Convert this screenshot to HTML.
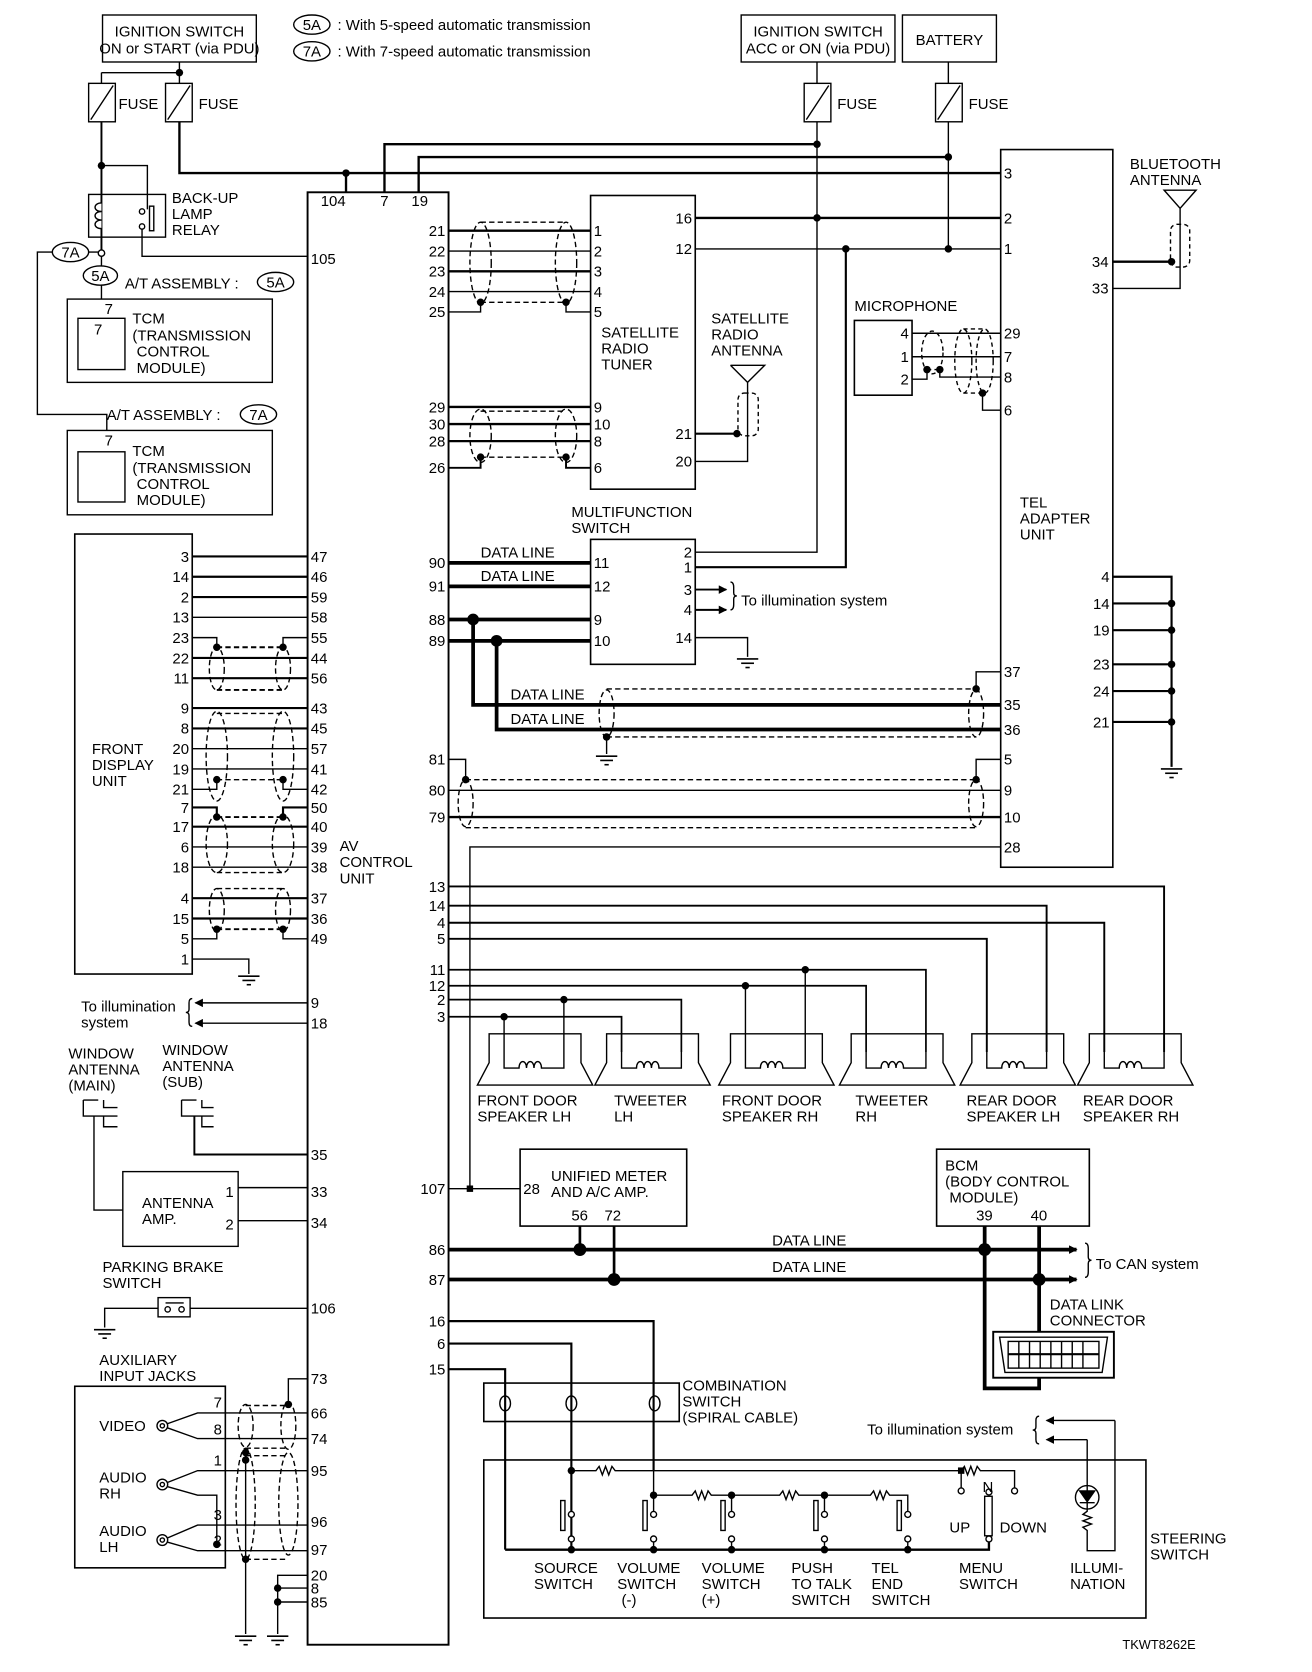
<!DOCTYPE html>
<html><head><meta charset="utf-8"><style>
html,body{margin:0;padding:0;background:#fff}
svg{display:block}
text{font-family:"Liberation Sans",Arial,sans-serif;font-size:14px;fill:#000}
.s{font-size:12px}
</style></head><body>
<svg width="1312" height="1672" viewBox="0 0 1228.5 1565.5" xmlns="http://www.w3.org/2000/svg">
<defs>
<marker id="ar" markerWidth="8" markerHeight="8" refX="7" refY="4" orient="auto" markerUnits="userSpaceOnUse"><path d="M0,0 L8,4 L0,8 z" fill="#000"/></marker>
<g id="gnd"><line x1="-10" y1="0" x2="10" y2="0" stroke="#000" stroke-width="1.5"/><line x1="-6" y1="4" x2="6" y2="4" stroke="#000" stroke-width="1.5"/><line x1="-2" y1="8" x2="2" y2="8" stroke="#000" stroke-width="1.5"/></g>
</defs>
<g fill="none" stroke="#000" stroke-width="1.3">

<rect x="96" y="14" width="144" height="44"/>
<rect x="694" y="14" width="144" height="44"/>
<rect x="845" y="14" width="88" height="44"/>
<ellipse cx="292" cy="23" rx="17" ry="9"/>
<ellipse cx="292" cy="48" rx="17" ry="9"/>
<path d="M168 58V68M95 68H168M95 68V78M168 68V78"/>
<rect x="83" y="78" width="25" height="36"/><line x1="85" y1="112" x2="106" y2="80"/>
<rect x="155" y="78" width="25" height="36"/><line x1="157" y1="112" x2="178" y2="80"/>
<path d="M765 58V78M888 58V78"/>
<rect x="753" y="78" width="25" height="36"/><line x1="755" y1="112" x2="776" y2="80"/>
<rect x="876" y="78" width="25" height="36"/><line x1="878" y1="112" x2="899" y2="80"/>

<path d="M168 114V162H937" stroke-width="2.2"/>
<path d="M324 162V180" stroke-width="2.2"/>
<path d="M360 180V135H765" stroke-width="2.2"/>
<path d="M392 180V147H888" stroke-width="2.2"/>
<path d="M765 114V517H651"/>
<path d="M888 114V233"/>
<path d="M651 204H937" stroke-width="2.2"/>
<path d="M651 233H937"/>
<path d="M792 233V531H651" stroke-width="2"/>

<path d="M95 114V237" stroke-width="1.8"/>
<path d="M95 155H138V196"/>
<rect x="83" y="182" width="72" height="40"/>
<path d="M95 190c-8 0-8 8 0 8c-8 0-8 8 0 8c-8 0-8 8 0 8" fill="#fff"/>
<circle cx="133" cy="198" r="2.5"/><circle cx="133" cy="212" r="2.5"/>
<rect x="140" y="193" width="4" height="23"/>
<path d="M133 214V240H288"/>
<circle cx="95" cy="237" r="3" fill="#fff"/>
<ellipse cx="66" cy="236" rx="17" ry="9"/>
<path d="M83 236H92M49 236H35V388H100V403"/>
<ellipse cx="94" cy="258" rx="16" ry="9"/>
<path d="M95 240V249M95 267V280"/>
<ellipse cx="258" cy="264" rx="17" ry="9"/>
<ellipse cx="242" cy="388" rx="17" ry="9"/>
<rect x="63" y="280" width="192" height="78"/><rect x="73" y="298" width="44" height="48"/>
<rect x="63" y="403" width="192" height="79"/><rect x="73" y="423" width="44" height="47"/>

<rect x="288" y="180" width="132" height="1360" stroke-width="1.8"/>

<rect x="70" y="500" width="110" height="412" stroke-width="1.5"/>
<g stroke-width="2">
<path d="M180 521H288M180 540H288M180 559H288M180 616H288M180 635H288M180 663H288M180 682H288M180 774H288M180 841H288M180 860H288"/>
</g>
<path d="M180 578H288M180 701H288M180 720H288M180 793H288M180 812H288"/>
<path d="M180 597H203V606M288 597H265V606"/>
<path d="M180 739H203V730M288 739H265V730"/>
<path d="M180 756H203V765M288 756H265V765" stroke-width="2"/>
<path d="M180 879H203V870M288 879H265V870"/>
<path d="M180 898H233V912"/>
<g stroke-dasharray="5,3">
<path d="M203 606H265M203 646H265" stroke-width="1.8"/>
<ellipse cx="203" cy="626" rx="7" ry="20"/><ellipse cx="265" cy="626" rx="7" ry="20"/>
<path d="M203 668H265"/><ellipse cx="203" cy="708" rx="10" ry="42"/><ellipse cx="265" cy="708" rx="10" ry="42"/>
<path d="M203 730H265"/>
<path d="M203 765H265" stroke-width="1.8"/><ellipse cx="203" cy="790" rx="10" ry="27"/><ellipse cx="265" cy="790" rx="10" ry="27"/><path d="M203 817H265"/>
<path d="M203 832H265"/><ellipse cx="203" cy="852" rx="7" ry="20"/><ellipse cx="265" cy="852" rx="7" ry="20"/><path d="M203 870H265" stroke-width="1.8"/>
</g>
<use href="#gnd" x="233" y="914"/>

<path d="M420 216H553M420 254H553" stroke-width="2.2"/>
<path d="M420 235H553M420 273H553"/>
<path d="M420 292H450V283M553 292H530V283"/>
<g stroke-dasharray="5,3">
<path d="M450 208H530M450 283H530"/>
<ellipse cx="450" cy="246" rx="10" ry="38"/><ellipse cx="530" cy="246" rx="10" ry="38"/>
<path d="M450 385H530M450 428H530"/>
<ellipse cx="450" cy="408" rx="10" ry="25"/><ellipse cx="530" cy="408" rx="10" ry="25"/>
</g>
<path d="M420 381H553M420 397H553M420 413H553" stroke-width="2.2"/>
<path d="M420 438H450V428M553 438H530V428" stroke-width="1.8"/>
<rect x="553" y="183" width="98" height="275" stroke-width="1.5"/>
<path d="M684 342H716L700 358L684 342M700 358V432H651" />
<path d="M651 406H690" stroke-width="2"/>
<g stroke-dasharray="4,3"><rect x="691" y="368" width="19" height="40" rx="6"/></g>

<rect x="553" y="505" width="98" height="117" stroke-width="1.5"/>
<path d="M420 527H553M420 549H553M420 580H553M420 600H553" stroke-width="3.5"/>
<path d="M443 580V660H937M465 600V683H937" stroke-width="3.5"/>
<path d="M651 552H680" marker-end="url(#ar)" stroke-width="1.8"/>
<path d="M651 571H680" marker-end="url(#ar)" stroke-width="1.8"/>
<path d="M684 545q3 0 3 5v5q0 3 3 3q-3 0-3 3v5q0 5-3 5"/>
<path d="M651 597H700V615"/><use href="#gnd" x="700" y="617"/>
<g stroke-dasharray="5,3">
<path d="M568 645H914M568 690H914"/>
<ellipse cx="568" cy="668" rx="7" ry="22"/><ellipse cx="914" cy="668" rx="7" ry="22"/>
</g>
<path d="M914 645V629H937M568 690V706"/><use href="#gnd" x="568" y="708"/>

<path d="M420 711H436V730M937 711H914V730"/>
<path d="M420 740H937"/>
<path d="M420 765H937" stroke-width="2.2"/>
<g stroke-dasharray="5,3">
<path d="M436 730H914M436 775H914"/>
<ellipse cx="436" cy="752" rx="7" ry="22"/><ellipse cx="914" cy="752" rx="7" ry="22"/>
</g>
<path d="M937 793H440V1113"/>

<rect x="937" y="140" width="105" height="672" stroke-width="1.5"/>
<path d="M1042 540H1097V718M1042 565H1097M1042 590H1097M1042 622H1097M1042 647H1097M1042 676H1097" stroke-width="2"/>
<use href="#gnd" x="1097" y="720"/>
<path d="M1042 245H1097" stroke-width="2.2"/>
<path d="M1042 270H1105V195M1090 178H1120L1105 195Z"/>
<g stroke-dasharray="4,3"><rect x="1096" y="210" width="18" height="40" rx="6"/></g>
<rect x="800" y="300" width="54" height="70" stroke-width="1.5"/>
<path d="M854 312H937M854 334H937"/>
<path d="M854 355H868V346M937 353H880V346"/>
<path d="M937 384H920V371"/>
<g stroke-dasharray="4,3">
<ellipse cx="873" cy="330" rx="10" ry="20"/><path d="M868 346H880"/>
<ellipse cx="902" cy="338" rx="8" ry="30"/><ellipse cx="922" cy="338" rx="8" ry="30"/><path d="M902 308H922M902 368H922"/>
</g>

<path d="M420 830H1090V985M420 848H980V985M420 864H1034V985M420 879H924V985" stroke-width="1.8"/>
<path d="M420 908H867V985M420 923H811V985M420 936H638V985M420 952H582V985" stroke-width="1.6"/>
<path d="M472 952V985M528 936V985M698 923V985M754 908V985"/>
<g id="spk"><path d="M458 968H544V995L555 1016H447L458 995Z"/><path d="M472 985V1000H486c0-8 7-8 7 0c0-8 7-8 7 0c0-8 7-8 7 0H528V985"/></g>
<use href="#spk" x="110"/><use href="#spk" x="226"/><use href="#spk" x="339"/><use href="#spk" x="452"/><use href="#spk" x="562"/>

<rect x="487" y="1076" width="156" height="72" stroke-width="1.5"/>
<rect x="877" y="1076" width="143" height="72" stroke-width="1.5"/>
<path d="M420 1113H487"/>
<path d="M420 1170H1008" stroke-width="3.5" marker-end="url(#ar)"/>
<path d="M420 1198H1008" stroke-width="3.5" marker-end="url(#ar)"/>
<path d="M543 1148V1170M575 1148V1198" stroke-width="2.5"/>
<path d="M922 1148V1300H973V1148" stroke-width="3.5"/>
<path d="M1016 1164q3 0 3 5v8q0 3 3 3q-3 0-3 3v8q0 5-3 5"/>
<rect x="930" y="1247" width="113" height="43" fill="#fff" stroke-width="1.8"/>
<path d="M936 1252H1037L1032 1285H941Z"/>
<rect x="944" y="1256" width="85" height="25"/>
<path d="M944 1268H1029" stroke-width="2"/>
<path d="M954 1256V1281M964 1256V1281M974 1256V1281M984 1256V1281M994 1256V1281M1004 1256V1281M1014 1256V1281"/>

<path d="M288 939H183" marker-end="url(#ar)"/>
<path d="M288 958H183" marker-end="url(#ar)"/>
<path d="M180 935q-3 0-3 4v6q0 3-3 3q3 0 3 3v6q0 4 3 4"/>
<path d="M78 1030H92M78 1030V1045H110M97 1030V1037H110M97 1045V1055H110" />
<path d="M88 1045V1133H115"/>
<path d="M170 1030H184M170 1030V1045H200M189 1030V1037H200M189 1045V1055H200"/>
<path d="M182 1045V1081H288" stroke-width="1.8"/>
<rect x="115" y="1097" width="108" height="70"/>
<path d="M223 1112H288M223 1143H288"/>
<rect x="148" y="1215" width="30" height="18"/>
<path d="M155 1220H172"/><circle cx="157" cy="1226" r="2.5"/><circle cx="170" cy="1226" r="2.5"/>
<path d="M178 1225H288M148 1225H98V1243"/><use href="#gnd" x="98" y="1245"/>
<rect x="70" y="1298" width="141" height="170" stroke-width="1.5"/>
<circle cx="152" cy="1335" r="5"/><circle cx="152" cy="1335" r="2"/>
<circle cx="152" cy="1390" r="5"/><circle cx="152" cy="1390" r="2"/>
<circle cx="152" cy="1442" r="5"/><circle cx="152" cy="1442" r="2"/>
<path d="M157 1333L185 1323H288M157 1337L185 1347H288"/>
<path d="M157 1388L185 1377H288M157 1392L185 1400H203V1446"/>
<path d="M157 1440L185 1428H288M157 1444L185 1452H288"/>
<path d="M288 1291H270V1315"/>
<g stroke-dasharray="5,3">
<ellipse cx="230" cy="1335" rx="7" ry="20"/><ellipse cx="270" cy="1335" rx="7" ry="22"/>
<path d="M230 1316H270M230 1356H270"/>
<ellipse cx="230" cy="1408" rx="9" ry="52"/><ellipse cx="270" cy="1408" rx="9" ry="48"/>
<path d="M230 1363H270M230 1460H270"/>
</g>
<path d="M230 1356V1530"/><use href="#gnd" x="230" y="1532"/>
<path d="M288 1475H260V1530M288 1487H260M288 1500H260"/><use href="#gnd" x="260" y="1532"/>

<path d="M420 1237H612V1377M420 1258H535V1451M420 1282H473V1451" stroke-width="2"/>
<rect x="453" y="1295" width="183" height="36" fill="none" stroke-width="1.5"/>
<rect x="453" y="1367" width="620" height="148" stroke-width="1.5"/>
<path d="M473 1451H926V1444" stroke-width="2.2"/>
<path d="M535 1377H558l3-4 3 8 3-8 3 8 3-8 3 4H900l3-4 3 8 3-8 3 8 3-8 3 4H950V1393M900 1377V1393"/>
<path d="M612 1400H648l3-4 3 8 3-8 3 8 3-8 3 4H730l3-4 3 8 3-8 3 8 3-8 3 4H815l3-4 3 8 3-8 3 8 3-8 3 4H850V1415"/>
<path d="M612 1377V1415M685 1400V1415M772 1400V1415"/>
<path d="M535 1377V1415"/>
<path d="M535 1444V1451M612 1444V1451M685 1444V1451M772 1444V1451M850 1444V1451"/>
<g fill="#fff">
<circle cx="535" cy="1418" r="2.8"/><circle cx="535" cy="1441" r="2.8"/>
<circle cx="612" cy="1418" r="2.8"/><circle cx="612" cy="1441" r="2.8"/>
<circle cx="685" cy="1418" r="2.8"/><circle cx="685" cy="1441" r="2.8"/>
<circle cx="772" cy="1418" r="2.8"/><circle cx="772" cy="1441" r="2.8"/>
<circle cx="850" cy="1418" r="2.8"/><circle cx="850" cy="1441" r="2.8"/>
<circle cx="900" cy="1396" r="2.8"/><circle cx="950" cy="1396" r="2.8"/>
<circle cx="926" cy="1397" r="2.8"/><circle cx="926" cy="1441" r="2.8"/>
</g>
<rect x="525" y="1405" width="4" height="28"/><rect x="602" y="1405" width="4" height="28"/><rect x="675" y="1405" width="4" height="28"/><rect x="762" y="1405" width="4" height="28"/><rect x="840" y="1405" width="4" height="28"/>
<rect x="922" y="1401" width="7" height="37"/>
<circle cx="1018" cy="1402" r="11"/>
<path d="M1018 1348V1415l-4 3 8 3-8 3 8 3-8 3 4 3V1452H1044V1330" />
<path d="M1018 1348H980" marker-end="url(#ar)"/>
<path d="M1044 1330H980" marker-end="url(#ar)"/>
<path d="M1011 1396H1025L1018 1406Z" fill="#000"/><path d="M1011 1407H1025"/>
<path d="M973 1326q-3 0-3 4v6q0 3-3 3q3 0 3 3v6q0 4 3 4"/>
</g>

<g fill="none" stroke="#000" stroke-width="1.3">
<ellipse cx="473" cy="1314" rx="5" ry="7"/><ellipse cx="535" cy="1314" rx="5" ry="7"/><ellipse cx="613" cy="1314" rx="5" ry="7"/>
</g>

<g fill="#000">
<circle cx="168" cy="68" r="3.5"/><circle cx="95" cy="155" r="3.5"/><circle cx="324" cy="162" r="3.5"/>
<circle cx="765" cy="135" r="3.5"/><circle cx="888" cy="147" r="3.5"/><circle cx="765" cy="204" r="3.5"/>
<circle cx="792" cy="233" r="3.5"/><circle cx="888" cy="233" r="3.5"/>
<circle cx="203" cy="606" r="3.5"/><circle cx="265" cy="606" r="3.5"/>
<circle cx="203" cy="730" r="3.5"/><circle cx="265" cy="730" r="3.5"/>
<circle cx="203" cy="765" r="3.5"/><circle cx="265" cy="765" r="3.5"/>
<circle cx="203" cy="870" r="3.5"/><circle cx="265" cy="870" r="3.5"/>
<circle cx="450" cy="283" r="3.5"/><circle cx="530" cy="283" r="3.5"/>
<circle cx="450" cy="428" r="3.5"/><circle cx="530" cy="428" r="3.5"/>
<circle cx="690" cy="406" r="3.5"/>
<circle cx="443" cy="580" r="5.5"/><circle cx="465" cy="600" r="5.5"/>
<circle cx="914" cy="645" r="3.5"/><circle cx="568" cy="690" r="3.5"/>
<circle cx="436" cy="730" r="3.5"/><circle cx="914" cy="730" r="3.5"/>
<circle cx="1097" cy="565" r="3.5"/><circle cx="1097" cy="590" r="3.5"/><circle cx="1097" cy="622" r="3.5"/><circle cx="1097" cy="647" r="3.5"/><circle cx="1097" cy="676" r="3.5"/>
<circle cx="1097" cy="245" r="3.5"/>
<circle cx="868" cy="346" r="3.5"/><circle cx="880" cy="346" r="3.5"/><circle cx="920" cy="368" r="3.5"/>
<circle cx="472" cy="952" r="3.5"/><circle cx="528" cy="936" r="3.5"/><circle cx="698" cy="923" r="3.5"/><circle cx="754" cy="908" r="3.5"/>
<rect x="437" y="1110" width="6" height="6"/>
<circle cx="543" cy="1170" r="6"/><circle cx="575" cy="1198" r="6"/><circle cx="922" cy="1170" r="6"/><circle cx="973" cy="1198" r="6"/>
<circle cx="270" cy="1315" r="3.5"/><circle cx="230" cy="1360" r="3.5"/><circle cx="230" cy="1367" r="3.5"/><circle cx="230" cy="1460" r="3.5"/>
<circle cx="203" cy="1446" r="3.5"/>
<circle cx="260" cy="1487" r="3.5"/><circle cx="260" cy="1500" r="3.5"/>
<circle cx="535" cy="1377" r="3.5"/><circle cx="612" cy="1400" r="3.5"/><circle cx="685" cy="1400" r="3.5"/><circle cx="772" cy="1400" r="3.5"/>
<rect x="897" y="1374" width="6" height="6"/>
<circle cx="535" cy="1451" r="3.5"/><circle cx="612" cy="1451" r="3.5"/><circle cx="685" cy="1451" r="3.5"/><circle cx="772" cy="1451" r="3.5"/><circle cx="850" cy="1451" r="3.5"/>
</g>

<g class="s">
<text x="168" y="34" text-anchor="middle">IGNITION SWITCH</text>
<text x="168" y="50" text-anchor="middle">ON or START (via PDU)</text>
<text x="766" y="34" text-anchor="middle">IGNITION SWITCH</text>
<text x="766" y="50" text-anchor="middle">ACC or ON (via PDU)</text>
</g>
<text x="889" y="42" text-anchor="middle">BATTERY</text>
<text x="292" y="28" text-anchor="middle">5A</text><text x="292" y="53" text-anchor="middle">7A</text>
<text x="316" y="28">: With 5-speed automatic transmission</text>
<text x="316" y="53">: With 7-speed automatic transmission</text>
<text x="111" y="102">FUSE</text><text x="186" y="102">FUSE</text>
<text x="784" y="102">FUSE</text><text x="907" y="102">FUSE</text>
<text x="312" y="193" text-anchor="middle">104</text><text x="360" y="193" text-anchor="middle">7</text><text x="393" y="193" text-anchor="middle">19</text>
<text x="161" y="190">BACK-UP</text><text x="161" y="205">LAMP</text><text x="161" y="220">RELAY</text>
<text x="291" y="247">105</text>
<text x="66" y="241" text-anchor="middle">7A</text><text x="94" y="263" text-anchor="middle">5A</text>
<text x="117" y="270">A/T ASSEMBLY :</text><text x="258" y="269" text-anchor="middle">5A</text>
<text x="100" y="393">A/T ASSEMBLY :</text><text x="242" y="393" text-anchor="middle">7A</text>
<text x="98" y="294">7</text><text x="88" y="313">7</text>
<text x="124" y="303">TCM</text><text x="124" y="319">(TRANSMISSION</text><text x="128" y="334">CONTROL</text><text x="128" y="349">MODULE)</text>
<text x="98" y="417">7</text>
<text x="124" y="427">TCM</text><text x="124" y="443">(TRANSMISSION</text><text x="128" y="458">CONTROL</text><text x="128" y="473">MODULE)</text>

<text x="86" y="706">FRONT</text><text x="86" y="721">DISPLAY</text><text x="86" y="736">UNIT</text>
<g text-anchor="end">
<text x="177" y="526">3</text><text x="177" y="545">14</text><text x="177" y="564">2</text><text x="177" y="583">13</text><text x="177" y="602">23</text><text x="177" y="621">22</text><text x="177" y="640">11</text><text x="177" y="668">9</text><text x="177" y="687">8</text><text x="177" y="706">20</text><text x="177" y="725">19</text><text x="177" y="744">21</text><text x="177" y="761">7</text><text x="177" y="779">17</text><text x="177" y="798">6</text><text x="177" y="817">18</text><text x="177" y="846">4</text><text x="177" y="865">15</text><text x="177" y="884">5</text><text x="177" y="903">1</text>
</g>
<g>
<text x="291" y="526">47</text><text x="291" y="545">46</text><text x="291" y="564">59</text><text x="291" y="583">58</text><text x="291" y="602">55</text><text x="291" y="621">44</text><text x="291" y="640">56</text><text x="291" y="668">43</text><text x="291" y="687">45</text><text x="291" y="706">57</text><text x="291" y="725">41</text><text x="291" y="744">42</text><text x="291" y="761">50</text><text x="291" y="779">40</text><text x="291" y="798">39</text><text x="291" y="817">38</text><text x="291" y="846">37</text><text x="291" y="865">36</text><text x="291" y="884">49</text>
<text x="291" y="944">9</text><text x="291" y="963">18</text><text x="291" y="1086">35</text><text x="291" y="1121">33</text><text x="291" y="1150">34</text><text x="291" y="1230">106</text>
<text x="291" y="1296">73</text><text x="291" y="1328">66</text><text x="291" y="1352">74</text><text x="291" y="1382">95</text><text x="291" y="1430">96</text><text x="291" y="1456">97</text><text x="291" y="1480">20</text><text x="291" y="1492">8</text><text x="291" y="1505">85</text>
</g>
<text x="318" y="797">AV</text><text x="318" y="812">CONTROL</text><text x="318" y="827">UNIT</text>
<g text-anchor="end">
<text x="417" y="221">21</text><text x="417" y="240">22</text><text x="417" y="259">23</text><text x="417" y="278">24</text><text x="417" y="297">25</text>
<text x="417" y="386">29</text><text x="417" y="402">30</text><text x="417" y="418">28</text><text x="417" y="443">26</text>
<text x="417" y="532">90</text><text x="417" y="554">91</text><text x="417" y="585">88</text><text x="417" y="605">89</text>
<text x="417" y="716">81</text><text x="417" y="745">80</text><text x="417" y="770">79</text>
<text x="417" y="835">13</text><text x="417" y="853">14</text><text x="417" y="869">4</text><text x="417" y="884">5</text>
<text x="417" y="913">11</text><text x="417" y="928">12</text><text x="417" y="941">2</text><text x="417" y="957">3</text>
<text x="417" y="1118">107</text><text x="417" y="1175">86</text><text x="417" y="1203">87</text>
<text x="417" y="1242">16</text><text x="417" y="1263">6</text><text x="417" y="1287">15</text>
<text x="648" y="209">16</text><text x="648" y="238">12</text><text x="648" y="411">21</text><text x="648" y="437">20</text>
<text x="648" y="522">2</text><text x="648" y="536">1</text><text x="648" y="557">3</text><text x="648" y="576">4</text><text x="648" y="602">14</text>
<text x="851" y="317">4</text><text x="851" y="339">1</text><text x="851" y="360">2</text>
<text x="1038" y="250">34</text><text x="1038" y="275">33</text>
<text x="1039" y="545">4</text><text x="1039" y="570">14</text><text x="1039" y="595">19</text><text x="1039" y="627">23</text><text x="1039" y="652">24</text><text x="1039" y="681">21</text>
</g>
<g>
<text x="556" y="221">1</text><text x="556" y="240">2</text><text x="556" y="259">3</text><text x="556" y="278">4</text><text x="556" y="297">5</text>
<text x="556" y="386">9</text><text x="556" y="402">10</text><text x="556" y="418">8</text><text x="556" y="443">6</text>
<text x="556" y="532">11</text><text x="556" y="554">12</text><text x="556" y="585">9</text><text x="556" y="605">10</text>
<text x="940" y="167">3</text><text x="940" y="209">2</text><text x="940" y="238">1</text>
<text x="940" y="317">29</text><text x="940" y="339">7</text><text x="940" y="358">8</text><text x="940" y="389">6</text>
<text x="940" y="634">37</text><text x="940" y="665">35</text><text x="940" y="688">36</text><text x="940" y="716">5</text><text x="940" y="745">9</text><text x="940" y="770">10</text><text x="940" y="798">28</text>
</g>
<text x="563" y="316">SATELLITE</text><text x="563" y="331">RADIO</text><text x="563" y="346">TUNER</text>
<text x="666" y="303">SATELLITE</text><text x="666" y="318">RADIO</text><text x="666" y="333">ANTENNA</text>
<text x="535" y="484">MULTIFUNCTION</text><text x="535" y="499">SWITCH</text>
<text x="450" y="522">DATA LINE</text><text x="450" y="544">DATA LINE</text>
<text x="478" y="655">DATA LINE</text><text x="478" y="678">DATA LINE</text>
<text x="694" y="567">To illumination system</text>
<text x="800" y="291">MICROPHONE</text>
<text x="1058" y="158">BLUETOOTH</text><text x="1058" y="173">ANTENNA</text>
<text x="955" y="475">TEL</text><text x="955" y="490">ADAPTER</text><text x="955" y="505">UNIT</text>

<text x="447" y="1035">FRONT DOOR</text><text x="447" y="1050">SPEAKER LH</text>
<text x="575" y="1035">TWEETER</text><text x="575" y="1050">LH</text>
<text x="676" y="1035">FRONT DOOR</text><text x="676" y="1050">SPEAKER RH</text>
<text x="801" y="1035">TWEETER</text><text x="801" y="1050">RH</text>
<text x="905" y="1035">REAR DOOR</text><text x="905" y="1050">SPEAKER LH</text>
<text x="1014" y="1035">REAR DOOR</text><text x="1014" y="1050">SPEAKER RH</text>

<text x="516" y="1106">UNIFIED METER</text><text x="516" y="1121">AND A/C AMP.</text>
<text x="490" y="1118">28</text><text x="535" y="1143">56</text><text x="566" y="1143">72</text>
<text x="885" y="1096">BCM</text><text x="885" y="1111">(BODY CONTROL</text><text x="889" y="1126">MODULE)</text>
<text x="914" y="1143">39</text><text x="965" y="1143">40</text>
<text x="723" y="1166">DATA LINE</text><text x="723" y="1191">DATA LINE</text>
<text x="1026" y="1188">To CAN system</text>
<text x="983" y="1226">DATA LINK</text><text x="983" y="1241">CONNECTOR</text>

<text x="76" y="947">To illumination</text><text x="76" y="962">system</text>
<text x="64" y="991">WINDOW</text><text x="64" y="1006">ANTENNA</text><text x="64" y="1021">(MAIN)</text>
<text x="152" y="988">WINDOW</text><text x="152" y="1003">ANTENNA</text><text x="152" y="1018">(SUB)</text>
<text x="133" y="1131">ANTENNA</text><text x="133" y="1146">AMP.</text>
<text x="211" y="1121">1</text><text x="211" y="1151">2</text>
<text x="96" y="1191">PARKING BRAKE</text><text x="96" y="1206">SWITCH</text>
<text x="93" y="1278">AUXILIARY</text><text x="93" y="1293">INPUT JACKS</text>
<text x="93" y="1340">VIDEO</text><text x="93" y="1388">AUDIO</text><text x="93" y="1403">RH</text><text x="93" y="1438">AUDIO</text><text x="93" y="1453">LH</text>
<text x="200" y="1318">7</text><text x="200" y="1343">8</text><text x="200" y="1372">1</text><text x="200" y="1423">3</text><text x="200" y="1447">2</text>

<text x="639" y="1302">COMBINATION</text><text x="639" y="1317">SWITCH</text><text x="639" y="1332">(SPIRAL CABLE)</text>
<text x="812" y="1343">To illumination system</text>
<text x="1077" y="1445">STEERING</text><text x="1077" y="1460">SWITCH</text>
<text x="920" y="1397">N</text><text x="889" y="1435">UP</text><text x="936" y="1435">DOWN</text>
<text x="500" y="1473">SOURCE</text><text x="500" y="1488">SWITCH</text>
<text x="578" y="1473">VOLUME</text><text x="578" y="1488">SWITCH</text><text x="582" y="1503">(-)</text>
<text x="657" y="1473">VOLUME</text><text x="657" y="1488">SWITCH</text><text x="657" y="1503">(+)</text>
<text x="741" y="1473">PUSH</text><text x="741" y="1488">TO TALK</text><text x="741" y="1503">SWITCH</text>
<text x="816" y="1473">TEL</text><text x="816" y="1488">END</text><text x="816" y="1503">SWITCH</text>
<text x="898" y="1473">MENU</text><text x="898" y="1488">SWITCH</text>
<text x="1002" y="1473">ILLUMI-</text><text x="1002" y="1488">NATION</text>
<text x="1051" y="1544" style="font-size:12px">TKWT8262E</text>
</svg>
</body></html>
